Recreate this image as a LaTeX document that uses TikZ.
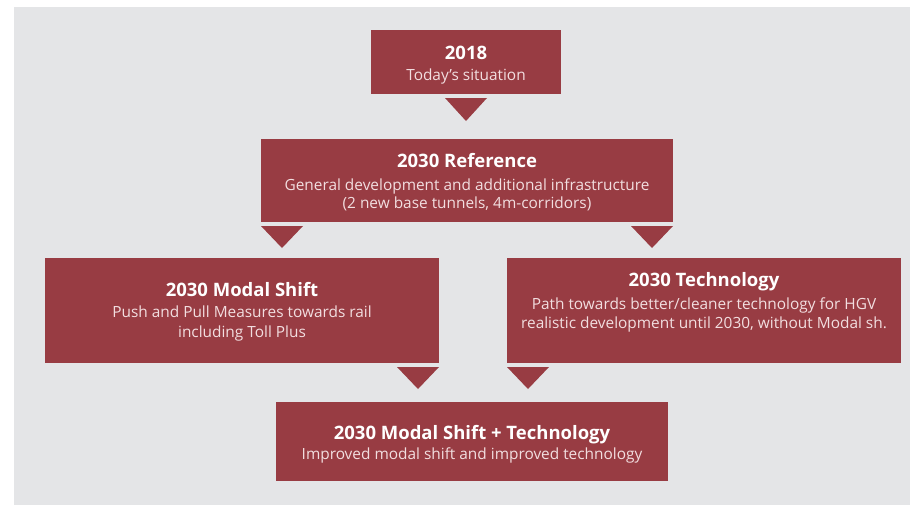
\documentclass[tikz,border=0pt]{standalone}
\usepackage{fontspec}
\setmainfont{Open Sans}
\usetikzlibrary{calc}
\definecolor{bg}{HTML}{E4E5E7}
\definecolor{boxred}{HTML}{983C43}
\definecolor{subtxt}{HTML}{F2DEE0}
\begin{document}
\begin{tikzpicture}[x=1pt,y=-1pt,
  box/.style={fill=boxred, draw=none, inner sep=0pt, outer sep=0pt},
  tri/.style={fill=boxred, draw=none},
  ttl/.style={anchor=base, inner sep=0pt, text=white, font=\bfseries\fontsize{18.5}{20}\selectfont},
  sub/.style={anchor=base, inner sep=0pt, text=subtxt, font=\fontsize{15.4}{19}\selectfont}]
\useasboundingbox (0,0) rectangle (910,504);
\fill[white] (-5,-5) rectangle (915,509);
\fill[bg] (14,7) rectangle (915,509);

% boxes
\node[box, minimum width=190pt, minimum height=64pt] (A) at (466,62) {};
\node[box, minimum width=412pt, minimum height=83pt] (B) at (467,180.5) {};
\node[box, minimum width=394pt, minimum height=105pt] (C) at (242,310.5) {};
\node[box, minimum width=394pt, minimum height=105pt] (D) at (704,310.5) {};
\node[box, minimum width=392pt, minimum height=79pt] (E) at (472,441.5) {};

% texts
\node[ttl] (A1) at (466,59) {2018};
\node[sub] (A2) at (466,80) {Today’s situation};

\node[ttl] (B1) at (467,167) {2030 Reference};
\node[sub] (B2) at (467,190) {General development and additional infrastructure};
\node[sub] (B3) at (467,208.5) {(2 new base tunnels, 4m-corridors)};

\node[ttl] (C1) at (242,296.5) {2030 Modal Shift};
\node[sub] (C2) at (242,317.5) {Push and Pull Measures towards rail};
\node[sub] (C3) at (242,337) {including Toll Plus};

\node[ttl] (D1) at (704,286) {2030 Technology};
\node[sub] (D2) at (704,309) {Path towards better/cleaner technology for HGV};
\node[sub] (D3) at (704,328.5) {realistic development until 2030, without Modal sh.};

\node[ttl] (E1) at (472,439) {2030 Modal Shift + Technology};
\node[sub] (E2) at (472,459) {Improved modal shift and improved technology};

% triangle connectors
\fill[tri] ($(A.south)+(-21,4)$) -- ++(42,0) -- ++(-21,23) -- cycle;
\fill[tri] ($(B.south west)+(0,4)$) -- ++(42,0) -- ++(-21,22) -- cycle;
\fill[tri] ($(B.south east)+(-42,4)$) -- ++(42,0) -- ++(-21,22) -- cycle;
\fill[tri] ($(C.south east)+(-42,4)$) -- ++(42,0) -- ++(-21,22) -- cycle;
\fill[tri] ($(D.south west)+(0,4)$) -- ++(42,0) -- ++(-21,22) -- cycle;
\end{tikzpicture}
\end{document}
